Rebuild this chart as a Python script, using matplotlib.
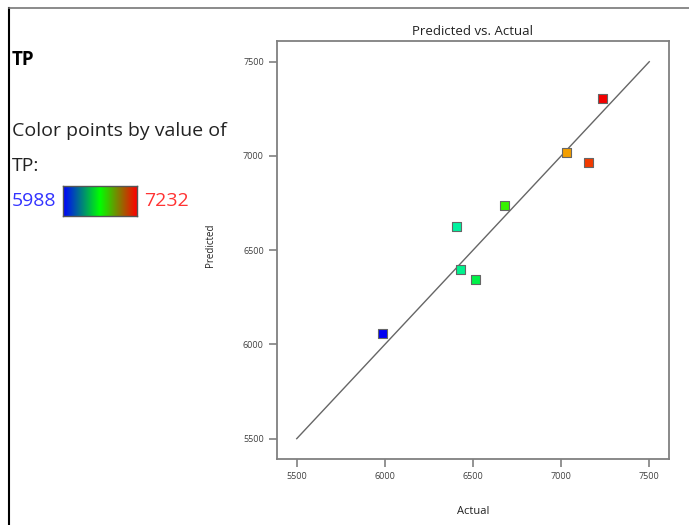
import colorsys

import matplotlib

matplotlib.use("Agg")
import matplotlib.pyplot as plt
import numpy as np
from matplotlib.colors import LinearSegmentedColormap

plt.rcParams["font.family"] = ["Open Sans", "DejaVu Sans"]

# Actual vs predicted TP values
actual = [5988, 6404, 6428, 6517, 6680, 7029, 7158, 7232]
predicted = [6059, 6627, 6400, 6344, 6736, 7021, 6966, 7304]
tp_min, tp_max = 5988, 7232
ticks = [5500, 6000, 6500, 7000, 7500]

AXIS_GRAY = "#808080"
TEXT_GRAY = "#404040"


def point_color(value):
    # hue sweeps from blue (low) to red (high)
    frac = (value - tp_min) / (tp_max - tp_min)
    return colorsys.hsv_to_rgb((240 * (1 - frac)) / 360, 1.0, 0.95)


fig = plt.figure(figsize=(6.89, 5.25), dpi=100)

# frame lines of the original screenshot
fig.add_artist(plt.Line2D([9 / 689, 9 / 689], [0, 1 - 8 / 525], color="black", lw=1.5))
fig.add_artist(plt.Line2D([9 / 689, 1], [1 - 8 / 525, 1 - 8 / 525], color="#777777", lw=1.2))

# left-hand legend text
fig.text(12 / 689, 1 - 60 / 525, "TP", fontsize=13.5, fontweight="bold", va="center")
fig.text(12 / 689, 1 - 131 / 525, "Color points by value of", fontsize=14,
         va="center", color="#222222")
fig.text(12 / 689, 1 - 166 / 525, "TP:", fontsize=14, va="center", color="#222222")
fig.text(12 / 689, 1 - 201 / 525, str(tp_min), fontsize=14, va="center", color="#3333ff")
fig.text(144 / 689, 1 - 201 / 525, str(tp_max), fontsize=14, va="center", color="#ff3333")

cax = fig.add_axes([63 / 689, 1 - 216 / 525, 74 / 689, 30 / 525])
bar_cmap = LinearSegmentedColormap.from_list("tp", ["#0000ff", "#00ff00", "#ff0000"])
cax.imshow(np.linspace(0, 1, 256)[None, :], aspect="auto", cmap=bar_cmap)
cax.set_xticks([])
cax.set_yticks([])
for spine in cax.spines.values():
    spine.set_color("#555555")
    spine.set_linewidth(1)

# main plot
ax = fig.add_axes([277 / 689, 1 - 459 / 525, 392 / 689, 418 / 525])
ax.plot([ticks[0], ticks[-1]], [ticks[0], ticks[-1]], color="#666666", lw=1)
ax.scatter(actual, predicted, marker="s", s=42, c=[point_color(v) for v in actual],
           edgecolors="#666666", linewidths=0.8, zorder=3)

ax.set_xlim(5388, 7612)
ax.set_ylim(5392, 7610)
ax.set_xticks(ticks)
ax.set_yticks(ticks)
ax.tick_params(axis="both", labelsize=6.5, colors=AXIS_GRAY, labelcolor=TEXT_GRAY,
               length=6, width=1.2)
for spine in ax.spines.values():
    spine.set_color(AXIS_GRAY)
    spine.set_linewidth(1.3)

ax.set_title("Predicted vs. Actual", fontsize=9.5, color="#222222", pad=4)
ax.set_xlabel("Actual", fontsize=8, color="#222222", labelpad=18)
fig.text(211 / 689, 1 - 245 / 525, "Predicted", fontsize=7, rotation=90,
         ha="center", va="center", color="#222222")

fig.savefig("out.png", dpi=100)
